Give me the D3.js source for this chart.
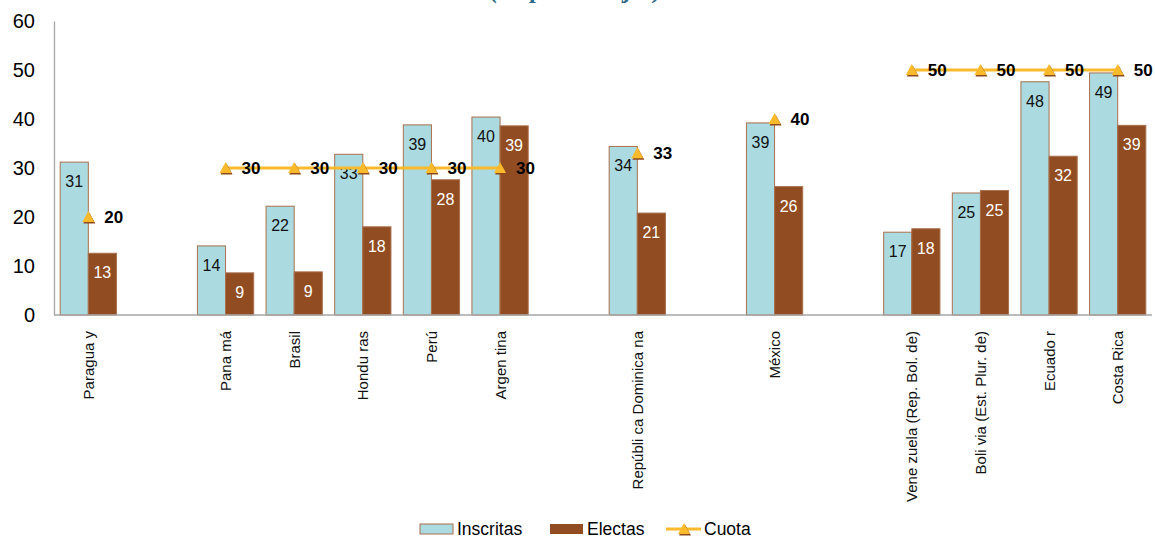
<!DOCTYPE html>
<html>
<head>
<meta charset="utf-8">
<script src="https://cdn.jsdelivr.net/npm/d3@7"></script>
<style>
  html, body { margin: 0; padding: 0; background: #fff; }
  svg { display: block; font-family: "Liberation Sans", Arial, sans-serif; }
</style>
</head>
<body>
<svg id="chart" width="1155" height="538"></svg>
<script>
// ---- Data ----
const categories = ["Paragua y", null, "Pana má", "Brasil", "Hondu ras", "Perú", "Argen tina", null,
  "Repúbli ca Dominica na", null, "México", null, "Vene zuela (Rep. Bol. de)", "Boli via (Est. Plur. de)", "Ecuado r", "Costa Rica"];
const inscritas = [31.2, null, 14.1, 22.2, 32.8, 38.8, 40.4, null, 34.4, null, 39.2, null, 16.9, 24.9, 47.6, 49.4];
const electas   = [12.6, null, 8.6, 8.8, 18.0, 27.6, 38.6, null, 20.8, null, 26.2, null, 17.6, 25.4, 32.4, 38.7];
const cuota     = [20, null, 30, 30, 30, 30, 30, null, 33, null, 40, null, 50, 50, 50, 50];
const yTicks = [0, 10, 20, 30, 40, 50, 60];
const seriesNames = ["Inscritas", "Electas", "Cuota"];
const titleText = "(en porcentajes)";

// ---- Style ----
const colIns = "#ABDAE1", colEle = "#924C21", colBarStroke = "#A8704E";
const colLine = "#FBBA2C", colTriShadow = "#8E4A1E", colAxis = "#A6A6A6";

const svg = d3.select("#chart");
const mLeft = 54, mRight = 1152, mTop = 21, mBottom = 315;

const idx = d3.range(categories.length);
const x = d3.scaleBand().domain(idx).range([mLeft, mRight]).paddingInner(0.18).paddingOuter(0.09);
const x1 = d3.scaleBand().domain(["ins", "ele"]).range([0, x.bandwidth()]);
const y = d3.scaleLinear().domain([0, 60]).range([mBottom, mTop]);
const cx = i => x(i) + x.bandwidth() / 2;
const fmt = d3.format(".0f");

// title (mostly cut off at top, as in the reference)
svg.append("text").attr("x", 576).attr("y", -2).attr("text-anchor", "middle")
  .style("font-family", "'Liberation Serif', 'Times New Roman', serif")
  .style("font-style", "italic").style("font-weight", "bold")
  .style("font-size", "26px").attr("fill", "#2E6B8A").text(titleText);

// Y axis
const yAxis = d3.axisLeft(y).tickValues(yTicks).tickSize(0).tickPadding(19).tickFormat(d3.format("d"));
const gy = svg.append("g").attr("transform", `translate(${mLeft},0)`).call(yAxis);
gy.select(".domain").attr("stroke", colAxis).attr("stroke-width", 1.3);
gy.selectAll("text").style("font-size", "20px").style("font-family", "'Liberation Sans', Arial, sans-serif").attr("fill", "#000");

// bars
const barData = [];
idx.forEach(i => {
  if (inscritas[i] != null) barData.push({i, k: "ins", v: inscritas[i]});
  if (electas[i] != null) barData.push({i, k: "ele", v: electas[i]});
});
svg.append("g").selectAll("rect").data(barData).join("rect")
  .attr("x", d => x(d.i) + x1(d.k))
  .attr("y", d => y(d.v))
  .attr("width", x1.bandwidth())
  .attr("height", d => y(0) - y(d.v))
  .attr("fill", d => d.k === "ins" ? colIns : colEle)
  .attr("stroke", colBarStroke).attr("stroke-width", 1);

svg.append("g").selectAll("text").data(barData).join("text")
  .attr("x", d => x(d.i) + x1(d.k) + x1.bandwidth() / 2)
  .attr("y", d => y(d.v) + 25)
  .attr("text-anchor", "middle")
  .style("font-size", "16px")
  .attr("fill", d => d.k === "ins" ? "#111" : "#fff")
  .text(d => fmt(d.v));

// X axis line
svg.append("line").attr("x1", mLeft).attr("x2", mRight).attr("y1", y(0)).attr("y2", y(0))
  .attr("stroke", colAxis).attr("stroke-width", 1.3);

// X labels
svg.append("g").selectAll("text").data(idx.filter(i => categories[i])).join("text")
  .attr("transform", i => `translate(${cx(i) + 5.5},${y(0) + 16}) rotate(-90)`)
  .attr("text-anchor", "end")
  .style("font-size", "15px").attr("fill", "#111")
  .text(i => categories[i]);

// Cuota line
const line = d3.line().defined(i => cuota[i] != null).x(i => cx(i)).y(i => y(cuota[i]));
svg.append("path").datum(idx).attr("d", line)
  .attr("fill", "none").attr("stroke", colLine).attr("stroke-width", 3.2);

const tri = "M0,-6 L6,5 L-6,5 Z";
const mk = svg.append("g").selectAll("g").data(idx.filter(i => cuota[i] != null)).join("g")
  .attr("transform", i => `translate(${cx(i)},${y(cuota[i])})`);
mk.append("path").attr("d", tri).attr("transform", "translate(1,1.5)").attr("fill", colTriShadow);
mk.append("path").attr("d", tri).attr("fill", colLine);
mk.append("text").attr("x", 16).attr("dy", "0.36em")
  .style("font-size", "17px").style("font-weight", "bold").attr("fill", "#000")
  .text(i => fmt(cuota[i]));

// Legend
const lg = svg.append("g").attr("transform", "translate(0,529)");
lg.append("rect").attr("x", 420).attr("y", -5).attr("width", 33).attr("height", 10)
  .attr("fill", colIns).attr("stroke", colBarStroke).attr("stroke-width", 1);
lg.append("text").attr("x", 457).attr("y", 6).style("font-size", "17.5px").text(seriesNames[0]);
lg.append("rect").attr("x", 550).attr("y", -5).attr("width", 33).attr("height", 10).attr("fill", colEle);
lg.append("text").attr("x", 587).attr("y", 6).style("font-size", "17.5px").text(seriesNames[1]);
lg.append("line").attr("x1", 666).attr("x2", 701).attr("y1", 0).attr("y2", 0)
  .attr("stroke", colLine).attr("stroke-width", 3.2);
const lt = lg.append("g").attr("transform", "translate(684,0)");
lt.append("path").attr("d", tri).attr("transform", "translate(1,1.5)").attr("fill", colTriShadow);
lt.append("path").attr("d", tri).attr("fill", colLine);
lg.append("text").attr("x", 704).attr("y", 6).style("font-size", "17.5px").text(seriesNames[2]);
</script>
</body>
</html>
